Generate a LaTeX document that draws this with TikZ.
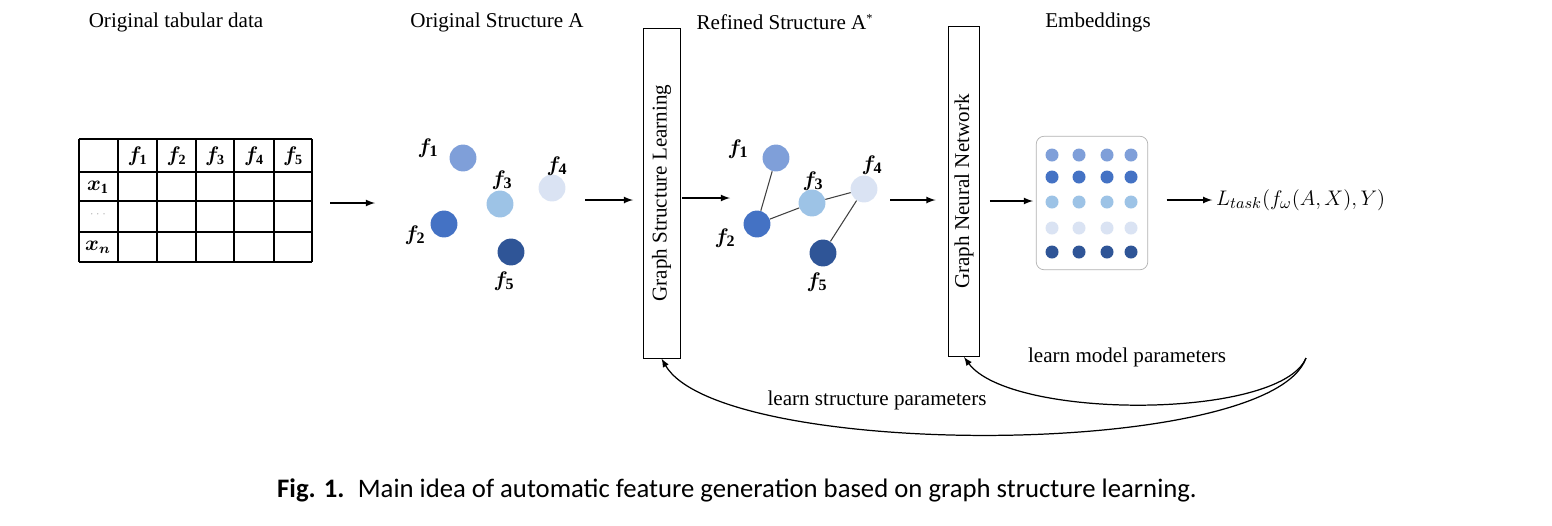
\documentclass[tikz,border=0pt]{standalone}
\usepackage{fontspec}
\setmainfont{Liberation Serif}
\newfontfamily\capfont{Carlito}
\usepackage{bm}
\usetikzlibrary{arrows.meta}

\definecolor{fa}{RGB}{127,159,217}
\definecolor{fb}{RGB}{68,114,196}
\definecolor{fc}{RGB}{157,195,230}
\definecolor{fd}{RGB}{218,227,243}
\definecolor{fe}{RGB}{47,85,151}

\begin{document}
\begin{tikzpicture}[x=0.02cm, y=-0.02cm, >=latex,
  feat/.style={circle, minimum size=15.3pt, inner sep=0pt},
  dot/.style={circle, minimum size=7.4pt, inner sep=0pt},
  lab/.style={inner sep=1pt, font=\fontsize{13}{15}\selectfont},
  title/.style={inner sep=1pt, font=\fontsize{12}{14}\selectfont},
  layer/.style={draw, rotate=90, minimum width=188pt, minimum height=21pt, inner sep=0pt, font=\fontsize{12}{14}\selectfont},
  flow/.style={->, line width=0.8pt}]
\useasboundingbox (0,0) rectangle (1552,525);

% titles
\node[title] (t1) at (176,22) {Original tabular data};
\node[title] (t2) at (497,22) {Original Structure A};
\node[title] (t3) at (785,22) {Refined Structure A\textsuperscript{\scriptsize *}};
\node[title] (t4) at (1098,22) {Embeddings};

% tabular data
\foreach \x in {79,118,157,196,234,274,312}
  \draw[line width=0.8pt] (\x,139) -- (\x,262);
\foreach \y in {139,172,201,232,262}
  \draw[line width=0.8pt] (79,\y) -- (312,\y);
\foreach \i/\x in {1/137.5,2/176.5,3/215,4/254,5/293}
  \node[lab, font=\fontsize{12}{14}\selectfont] (h\i) at (\x,156) {$\bm{f}_{\mathbf{\i}}$};
\node[lab, font=\fontsize{12}{14}\selectfont] (r1) at (98,187) {$\bm{x}_{\mathbf{1}}$};
\node[lab, text=gray] (r2) at (98,214) {\tiny$\cdots$};
\node[lab, font=\fontsize{12}{14}\selectfont] (r3) at (98,247) {$\bm{x}_{\bm{n}}$};

% original structure
\node[feat, fill=fa] (a1) at (463,158) {};
\node[feat, fill=fb] (a2) at (444,224) {};
\node[feat, fill=fc] (a3) at (500,204) {};
\node[feat, fill=fd] (a4) at (552,188) {};
\node[feat, fill=fe] (a5) at (511,252) {};
\node[lab] (la1) at (428,148) {$\bm{f}_{\mathbf{1}}$};
\node[lab] (la2) at (415,235) {$\bm{f}_{\mathbf{2}}$};
\node[lab] (la3) at (502,180) {$\bm{f}_{\mathbf{3}}$};
\node[lab] (la4) at (557,166) {$\bm{f}_{\mathbf{4}}$};
\node[lab] (la5) at (504,281) {$\bm{f}_{\mathbf{5}}$};

% learning layers
\node[layer] (gsl) at (661.5,193) {Graph Structure Learning};
\node[layer, minimum height=18pt] (gnn) at (964,191.5) {Graph Neural Network};

% refined structure
\node[feat, fill=fa] (b1) at (776,158) {};
\node[feat, fill=fb] (b2) at (757,224) {};
\node[feat, fill=fc] (b3) at (812,203) {};
\node[feat, fill=fd] (b4) at (864,189) {};
\node[feat, fill=fe] (b5) at (823,253) {};
\node[lab] (lb1) at (738,149) {$\bm{f}_{\mathbf{1}}$};
\node[lab] (lb2) at (725,238) {$\bm{f}_{\mathbf{2}}$};
\node[lab] (lb3) at (813,181) {$\bm{f}_{\mathbf{3}}$};
\node[lab] (lb4) at (872,165) {$\bm{f}_{\mathbf{4}}$};
\node[lab] (lb5) at (817,282) {$\bm{f}_{\mathbf{5}}$};
\path[draw=black!75, line width=0.6pt]
(b1) edge (b2)
(b2) edge (b3)
(b3) edge (b4)
(b4) edge (b5)
;

% embeddings
\node[draw=black!30, fill=white, rounded corners=4.5pt, minimum width=63.5pt, minimum height=76pt] (emb) at (1092,203) {};
\foreach \c/\y [count=\r] in {fa/155,fb/177,fc/202,fd/228,fe/252}
  \foreach \x [count=\k] in {1052,1079,1107,1131}
    \node[dot, fill=\c] (e\r\k) at (\x,\y) {};
\node[anchor=west, inner sep=1pt, font=\fontsize{13}{15}\selectfont] (loss) at (1214,200) {$L_{task}(f_\omega(A,X),Y)$};

% forward arrows
\coordinate (p1) at (330,203);
\coordinate (p2) at (375,203);
\coordinate (p3) at (585,200);
\coordinate (p4) at (730,198);
\coordinate (p5) at (890,200);
\coordinate (p6) at (1033,201);
\draw[flow] (p1) -- (p2);
\draw[flow, shorten >=5.5pt] (p3) -- (p3 -| gsl.north);
\draw[flow, shorten <=1pt] (gsl.south |- p4) -- (p4);
\draw[flow, shorten >=7pt] (p5) -- (p5 -| gnn.north);
\draw[flow, shorten <=5.5pt] (gnn.south |- p6) -- (p6);
\draw[flow, shorten <=10.5pt, shorten >=1pt] (emb.east |- loss.west) -- (loss.west);

% feedback
\coordinate (s) at (1306,358);
\draw[->, line width=0.7pt] (s) .. controls (1280,420) and (1010,420) .. (gnn.west);
\draw[->, line width=0.7pt] (s) .. controls (1270,460) and (720,460) .. (gsl.west);
\node[title] (lm) at (1127,357) {learn model parameters};
\node[title] (ls) at (877,400) {learn structure parameters};

% caption
\node[font=\capfont\fontsize{15.2}{18}\selectfont] (cap) at (737,490) {\textbf{Fig. 1.}\enspace Main idea of automatic feature generation based on graph structure learning.};
\end{tikzpicture}
\end{document}
